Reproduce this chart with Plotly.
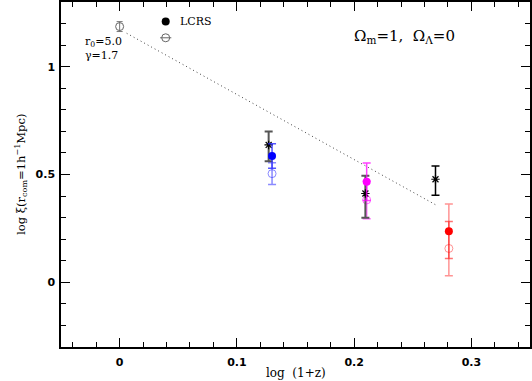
import plotly.graph_objects as go

# log(1+z) and log xi values
z0_x = [0.0]
z0_y = [1.186]
z0_err = [0.023]

ast_x = [0.1271, 0.2096]
ast_y = [0.637, 0.412]
ast_up = [0.063, 0.082]
ast_dn = [0.076, 0.112]

ast3_x = [0.2694]
ast3_y = [0.478]
ast3_up = [0.062]
ast3_dn = [0.074]

fill_x = [0.130, 0.2107, 0.2808]
fill_y = [0.586, 0.466, 0.237]
fill_up = [0.057, 0.087, 0.045]
fill_dn = [0.057, 0.087, 0.126]
fill_col = ["#0000ff", "#ff00ff", "#ff0000"]
fill_bar = ["rgba(40,40,255,0.8)", "rgba(255,0,255,0.75)", "rgba(255,0,0,0.55)"]

open_x = [0.130, 0.2107, 0.2808]
open_y = [0.504, 0.382, 0.157]
open_up = [0.050, 0.087, 0.206]
open_dn = [0.050, 0.087, 0.126]
open_col = ["rgba(60,60,255,0.6)", "rgba(255,0,255,0.6)", "rgba(255,60,60,0.55)"]

fit_x = [0.006, 0.27]
fit_y = [1.155, 0.358]

lcrs_x = [0.0393]
lcrs_fill_y = [1.209]
lcrs_open_y = [1.134]

fig = go.Figure()

fig.add_trace(go.Scatter(x=fit_x, y=fit_y, mode="lines",
                         line=dict(color="#444", width=1, dash="1px,3px")))

fig.add_trace(go.Scatter(x=z0_x, y=z0_y, mode="markers",
                         marker=dict(symbol="circle-open", size=8, color="#666", line=dict(width=1)),
                         error_y=dict(type="data", array=z0_err, color="#777", thickness=1, width=3)))

for i in range(3):
    fig.add_trace(go.Scatter(x=[open_x[i]], y=[open_y[i]], mode="markers",
                             marker=dict(symbol="circle-open", size=8, color=open_col[i], line=dict(width=1)),
                             error_y=dict(type="data", symmetric=False, array=[open_up[i]],
                                          arrayminus=[open_dn[i]], color=open_col[i], thickness=1.5, width=4)))

fig.add_trace(go.Scatter(x=ast_x, y=ast_y, mode="markers",
                         marker=dict(symbol="asterisk-open", size=7, color="black", line=dict(width=1.2, color="black")),
                         error_y=dict(type="data", symmetric=False, array=ast_up, arrayminus=ast_dn,
                                      color="#555", thickness=2, width=4)))

fig.add_trace(go.Scatter(x=ast3_x, y=ast3_y, mode="markers",
                         marker=dict(symbol="asterisk-open", size=7, color="black", line=dict(width=1.2, color="black")),
                         error_y=dict(type="data", symmetric=False, array=ast3_up, arrayminus=ast3_dn,
                                      color="black", thickness=1.5, width=4)))

for i in range(3):
    fig.add_trace(go.Scatter(x=[fill_x[i]], y=[fill_y[i]], mode="markers",
                             marker=dict(symbol="circle", size=8, color=fill_col[i]),
                             error_y=dict(type="data", symmetric=False, array=[fill_up[i]],
                                          arrayminus=[fill_dn[i]], color=fill_bar[i], thickness=1.5, width=4)))

# LCRS key
fig.add_trace(go.Scatter(x=lcrs_x, y=lcrs_fill_y, mode="markers",
                         marker=dict(symbol="circle", size=8, color="black")))
fig.add_trace(go.Scatter(x=lcrs_x, y=lcrs_open_y, mode="markers",
                         marker=dict(symbol="circle-open", size=8, color="#666", line=dict(width=1))))
fig.add_trace(go.Scatter(x=lcrs_x, y=lcrs_open_y, mode="markers",
                         marker=dict(symbol="line-ew-open", size=8, color="#666", line=dict(width=1))))

serif = "Liberation Serif"
wide_serif = "DejaVu Serif"
fig.add_annotation(x=0.0497, y=1.209, text="LCRS", showarrow=False, xanchor="left",
                   font=dict(family=wide_serif, size=11, color="black"))
fig.add_annotation(x=-0.031, y=1.116, text="r<sub>0</sub>=5.0", showarrow=False, xanchor="left",
                   font=dict(family=wide_serif, size=11, color="black"))
fig.add_annotation(x=-0.031, y=1.052, text="γ=1.7", showarrow=False, xanchor="left",
                   font=dict(family=wide_serif, size=11, color="black"))
fig.add_annotation(x=0.1986, y=1.14, text="Ω<sub>m</sub>=1,  Ω<sub>Λ</sub>=0", showarrow=False,
                   xanchor="left", font=dict(family=wide_serif, size=15, color="black"))

# axis titles placed in paper space
fig.add_annotation(xref="paper", yref="paper", x=0.5, y=-0.075, yanchor="middle",
                   text="log  (1+z)", showarrow=False,
                   font=dict(family=wide_serif, size=12, color="black"))
fig.add_annotation(xref="paper", yref="paper", x=-0.108, y=0.5, textangle=-90,
                   text="log ξ(r<sub>com</sub>=1h<sup>−1</sup>Mpc)", showarrow=False,
                   font=dict(family=wide_serif, size=11.5, color="black"))

axis_common = dict(showline=True, linecolor="black", linewidth=1.5, mirror="allticks",
                   ticks="inside", tickcolor="black", tickwidth=1.2, ticklen=9,
                   showgrid=False, zeroline=False, automargin=False,
                   tickfont=dict(family="DejaVu Sans", size=11, color="black", weight="bold"))

fig.update_xaxes(range=[-0.05, 0.35], tickvals=[0, 0.1, 0.2, 0.3], ticktext=["0", "0.1", "0.2", "0.3"],
                 ticklabelstandoff=4,
                 minor=dict(dtick=0.02, tick0=0, ticks="inside", ticklen=5, tickcolor="black", tickwidth=1.2),
                 **axis_common)
fig.update_yaxes(range=[-0.3, 1.3], tickvals=[0, 0.5, 1], ticktext=["0", "0.5", "1"],
                 ticklabelstandoff=2,
                 minor=dict(dtick=0.1, tick0=0, ticks="inside", ticklen=5, tickcolor="black", tickwidth=1.2),
                 **axis_common)

fig.update_layout(width=532, height=381, showlegend=False,
                  margin=dict(l=61, r=2, t=2, b=34),
                  plot_bgcolor="white", paper_bgcolor="white")

# the page's default body margin would shift the figure by 8px
fig.write_html("out.html", config={"displayModeBar": False},
               post_script="document.body.style.margin='0';")
